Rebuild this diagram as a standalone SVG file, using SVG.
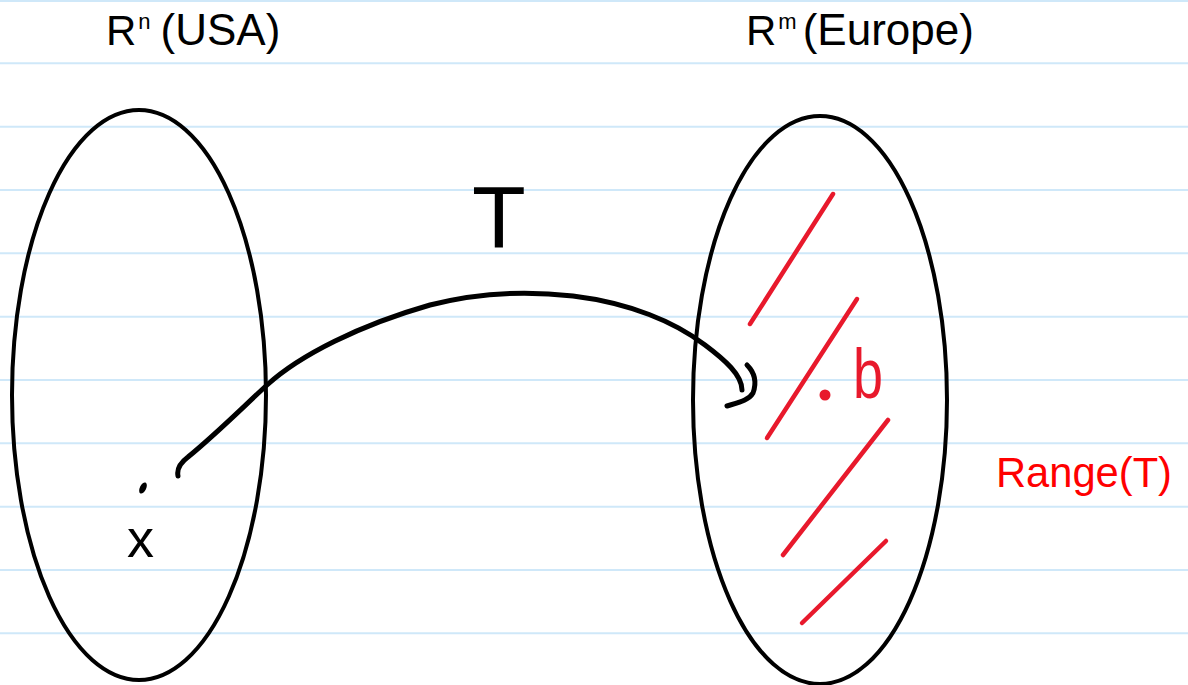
<svg xmlns="http://www.w3.org/2000/svg" width="1188" height="685" viewBox="0 0 1188 685">
<style>
.rule{stroke:#cfe8f9;stroke-width:2}
.ell{fill:none;stroke:#000;stroke-width:4}
.ink{fill:none;stroke:#000;stroke-width:5;stroke-linecap:round;stroke-linejoin:round}
.hatch{fill:none;stroke:#e8192c;stroke-width:4.5;stroke-linecap:round}
.lbl{font-family:"Liberation Sans",Arial,sans-serif;fill:#000}
.red{fill:#ff0000}
</style>
<rect width="1188" height="685" fill="#fff"/>
<g id="paper-lines">
<line class="rule" x1="0" y1="1" x2="1188" y2="1"/>
<line class="rule" x1="0" y1="63.3" x2="1188" y2="63.3"/>
<line class="rule" x1="0" y1="126.7" x2="1188" y2="126.7"/>
<line class="rule" x1="0" y1="190" x2="1188" y2="190"/>
<line class="rule" x1="0" y1="253.3" x2="1188" y2="253.3"/>
<line class="rule" x1="0" y1="316.7" x2="1188" y2="316.7"/>
<line class="rule" x1="0" y1="380" x2="1188" y2="380"/>
<line class="rule" x1="0" y1="443.3" x2="1188" y2="443.3"/>
<line class="rule" x1="0" y1="506.7" x2="1188" y2="506.7"/>
<line class="rule" x1="0" y1="570" x2="1188" y2="570"/>
<line class="rule" x1="0" y1="633.3" x2="1188" y2="633.3"/>
</g>
<g id="usa">
<ellipse class="ell" cx="139" cy="395" rx="127" ry="285"/>
<text class="lbl" x="106" y="45" font-size="42">R<tspan font-size="22" dx="2" dy="-16">n</tspan><tspan dx="10" dy="16" font-size="44">(USA)</tspan></text>
<ellipse cx="143" cy="488" rx="3.2" ry="6" transform="rotate(25 143 488)" fill="#000"/>
<text class="lbl" x="127" y="557" font-size="54">x</text>
</g>
<g id="europe">
<ellipse class="ell" cx="820" cy="400" rx="127" ry="284"/>
<text class="lbl" x="746" y="45" font-size="42">R<tspan font-size="22" dx="2" dy="-16">m</tspan><tspan dx="6" dy="16" font-size="44">(Europe)</tspan></text>
</g>
<g id="range">
<line class="hatch" x1="833" y1="194" x2="750" y2="324"/>
<line class="hatch" x1="857" y1="299" x2="767" y2="438"/>
<line class="hatch" x1="888" y1="420" x2="783" y2="555"/>
<line class="hatch" x1="886" y1="541" x2="802" y2="623"/>
<circle cx="825" cy="395" r="5.5" fill="#e8192c"/>
<text x="853" y="398" font-family="Liberation Sans,Arial,sans-serif" font-size="70" fill="#e8192c" textLength="30" lengthAdjust="spacingAndGlyphs">b</text>
<text class="lbl red" x="996" y="487" font-size="42" textLength="176" lengthAdjust="spacingAndGlyphs">Range(T)</text>
</g>
<g id="connectors">
<path class="ink" d="M178,476 Q176,466 188,457 C215,435 240,410 267,385 C300,355 360,325 430,305 C480,292 530,291 573,296 C630,303 675,322 705,345 C725,360 742,375 742,390"/>
<path class="ink" d="M747,365 C754,372 757,382 753,393 C749,400 740,402 727,406"/>
<text class="lbl" x="472" y="247" font-size="88">T</text>
</g>
</svg>
